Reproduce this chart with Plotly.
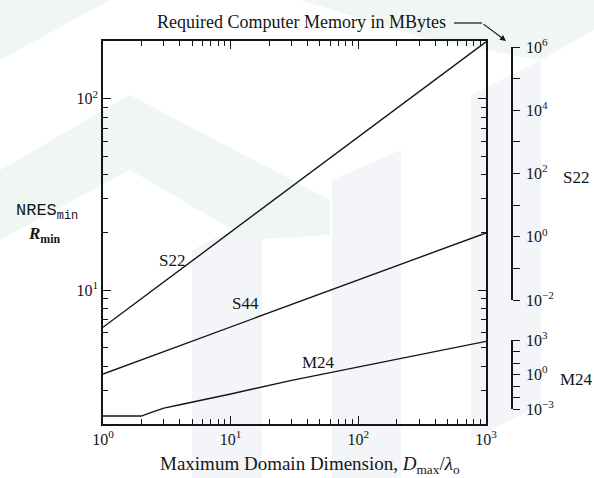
import plotly.graph_objects as go

# ---- data ----
D_s22 = [1, 10, 100, 1000]
R_s22 = [6.4, 20.1, 63.1, 198]

D_s44 = [1, 10, 100, 1000]
R_s44 = [3.65, 6.43, 11.3, 19.9]

D_m24 = [1, 2, 2.3, 2.6, 3, 4, 5, 10, 30, 100, 300, 1000]
R_m24 = [2.2, 2.2, 2.28, 2.35, 2.42, 2.52, 2.6, 2.87, 3.38, 3.98, 4.6, 5.4]

x_major = [1, 10, 100, 1000]
x_major_text = ["10<sup>0</sup>", "10<sup>1</sup>", "10<sup>2</sup>", "10<sup>3</sup>"]
y_major = [10, 100]
y_major_text = ["10<sup>1</sup>", "10<sup>2</sup>"]

mem_s22_vals = [1e-2, 1e-1, 1e0, 1e1, 1e2, 1e3, 1e4, 1e5, 1e6]
mem_s22_text = ["10<sup>−2</sup>", "", "10<sup>0</sup>", "", "10<sup>2</sup>", "", "10<sup>4</sup>", "", "10<sup>6</sup>"]
mem_m24_vals = [1e-3, 1e-2, 1e-1, 1e0, 1e1, 1e2, 1e3]
mem_m24_text = ["10<sup>−3</sup>", "", "", "10<sup>0</sup>", "", "", "10<sup>3</sup>"]

x_minor = [m * d for d in (1, 10, 100) for m in range(2, 10)]
y_minor = [m * d for d in (1, 10, 100) for m in range(2, 10)]

SERIF = "Liberation Serif, Times New Roman, serif"
INK = "#151515"

fig = go.Figure()
for xs, ys in ((D_s22, R_s22), (D_s44, R_s44), (D_m24, R_m24)):
    fig.add_trace(go.Scatter(x=xs, y=ys, mode="lines",
                             line=dict(color=INK, width=1.4),
                             showlegend=False, hoverinfo="skip"))

# invisible traces to create the two memory axes
fig.add_trace(go.Scatter(x=[1, 1], y=[mem_s22_vals[0], mem_s22_vals[-1]], yaxis="y2",
                         mode="markers", marker=dict(opacity=0), showlegend=False, hoverinfo="skip"))
fig.add_trace(go.Scatter(x=[1, 1], y=[mem_m24_vals[0], mem_m24_vals[-1]], yaxis="y3",
                         mode="markers", marker=dict(opacity=0), showlegend=False, hoverinfo="skip"))

L, R, T, B = 103, 82, 41, 54
W, H = 594, 478
pw = W - L - R
ph = H - T - B

def px(xp):
    return (xp - L) / pw

def py(yp):
    return (H - B - yp) / ph

# faint background watermark seen in the scan
GREY = "rgb(243,245,248)"
GREEN = "rgb(240,247,243)"
def poly(pts, color):
    path = "M " + " L ".join(f"{px(a):.4f},{py(b):.4f}" for a, b in pts) + " Z"
    fig.add_shape(type="path", path=path, xref="paper", yref="paper",
                  fillcolor=color, line=dict(width=0), layer="below")

poly([(192, 250), (262, 215), (262, 478), (192, 478)], GREY)
poly([(332, 180), (401, 150), (401, 478), (332, 478)], GREY)
poly([(471, 95), (541, 60), (541, 405), (471, 440)], GREY)
poly([(0, 0), (110, 0), (0, 60)], GREEN)
poly([(0, 170), (130, 95), (330, 200), (330, 235), (250, 240), (130, 170), (0, 240)], GREEN)
poly([(300, 0), (594, 0), (594, 30), (541, 60), (430, 40)], GREEN)

axis_common = dict(showgrid=False, zeroline=False, showline=True, linecolor=INK, linewidth=1.6,
                   ticks="inside", tickcolor=INK, tickwidth=1.3, mirror="ticks",
                   tickfont=dict(family=SERIF, size=16, color=INK))

mem_axis = dict(type="log", anchor="free", position=1.0, side="right", showgrid=False,
                zeroline=False, showline=True, linecolor=INK, linewidth=1.5,
                ticks="outside", ticklen=7, tickcolor=INK, tickwidth=1.3, ticklabelstandoff=3,
                tickfont=dict(family=SERIF, size=16, color=INK))

fig.update_layout(
    width=W, height=H,
    margin=dict(l=L, r=R, t=T, b=B, pad=0),
    paper_bgcolor="white", plot_bgcolor="rgba(0,0,0,0)",
    xaxis=dict(type="log", range=[0, 3], domain=[0, px(486)],
               tickvals=x_major, ticktext=x_major_text, ticklen=8,
               minor=dict(tickvals=x_minor, ticklen=5, ticks="inside", tickcolor=INK, tickwidth=1.1),
               **axis_common),
    yaxis=dict(type="log", range=[0.30103, 2.30103],
               tickvals=y_major, ticktext=y_major_text, ticklen=8,
               minor=dict(tickvals=y_minor, ticklen=5, ticks="inside", tickcolor=INK, tickwidth=1.1),
               **axis_common),
    yaxis2=dict(range=[-2, 6], domain=[py(300), py(47)],
                tickvals=mem_s22_vals, ticktext=mem_s22_text, **mem_axis),
    yaxis3=dict(range=[-3, 3], domain=[py(409), py(340)],
                tickvals=mem_m24_vals, ticktext=mem_m24_text, **mem_axis),
)

ann_font = dict(family=SERIF, size=17, color=INK)
def note(text, x, y, xanchor="center", font=ann_font):
    fig.add_annotation(text=text, x=x, y=y, xref="paper", yref="paper", showarrow=False,
                       xanchor=xanchor, yanchor="middle", font=font)

note("Required Computer Memory in MBytes", px(448), py(22), xanchor="right",
     font=dict(family=SERIF, size=18, color=INK))
note("Maximum Domain Dimension, <i>D</i><sub>max</sub>/<i>λ</i><sub>o</sub>", px(310), py(465),
     font=dict(family=SERIF, size=19, color=INK))
note("NRES<sub>min</sub>", px(14), py(212), xanchor="left",
     font=dict(family="Liberation Mono, Courier New, monospace", size=17, color=INK))
note("<b><i>R</i><sub>min</sub></b>", px(44), py(235))
note("S22", px(172), py(260))
note("S44", px(245), py(303))
note("M24", px(318), py(362))
note("S22", px(576), py(177))
note("M24", px(576), py(379))

fig.add_shape(type="line", xref="paper", yref="paper", x0=px(454), y0=py(23), x1=px(482), y1=py(23),
              line=dict(color=INK, width=1.2))
fig.add_annotation(x=px(506), y=py(41), xref="paper", yref="paper", text="", showarrow=True,
                   ax=-24, ay=-18, arrowhead=2, arrowsize=1, arrowwidth=1.2, arrowcolor=INK)

fig.write_html("out.html")
